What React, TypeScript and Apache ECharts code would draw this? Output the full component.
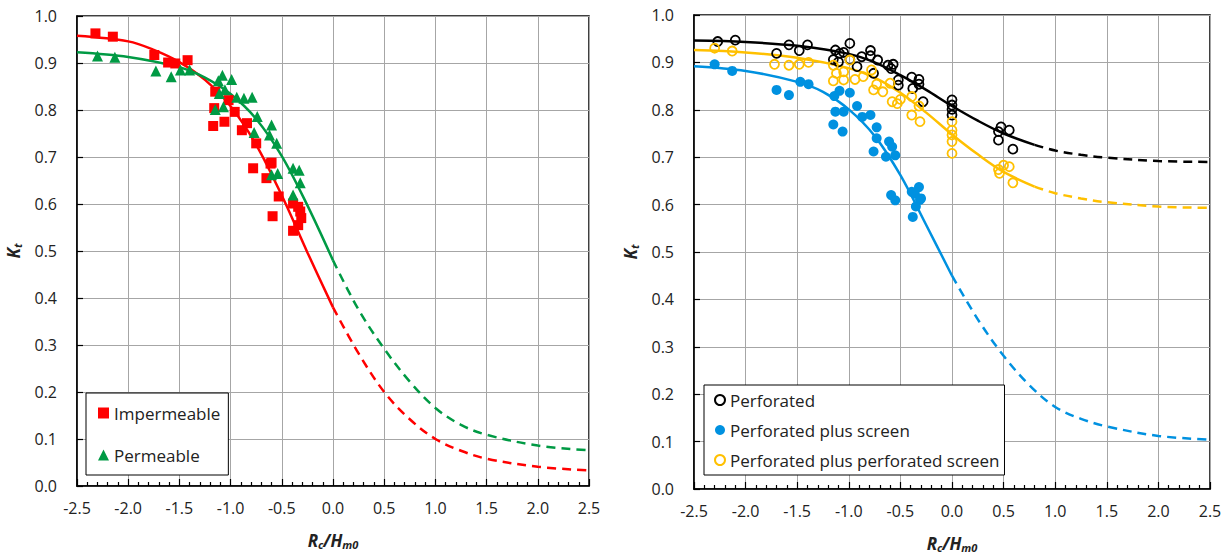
import React, { useEffect, useRef } from "react";
import * as echarts from "echarts";

type P = [number, number];

const FONT = "Open Sans";

// ---------- Left chart data ----------
const impermeable: P[] = [
  [-2.32, 0.963], [-2.15, 0.956], [-1.745, 0.917], [-1.61, 0.901], [-1.54, 0.899],
  [-1.42, 0.906], [-1.15, 0.839], [-1.16, 0.804], [-1.17, 0.766], [-1.06, 0.775],
  [-1.02, 0.821], [-0.96, 0.796], [-0.89, 0.757], [-0.84, 0.772], [-0.75, 0.729],
  [-0.78, 0.676], [-0.61, 0.686], [-0.65, 0.655], [-0.59, 0.574], [-0.53, 0.616],
  [-0.39, 0.601], [-0.34, 0.594], [-0.32, 0.584], [-0.31, 0.57], [-0.34, 0.555],
  [-0.39, 0.543], [-0.6, 0.688],
];
const permeable: P[] = [
  [-2.3, 0.915], [-2.13, 0.912], [-1.73, 0.883], [-1.58, 0.871], [-1.49, 0.885],
  [-1.4, 0.885], [-1.12, 0.862], [-1.08, 0.874], [-0.99, 0.865], [-1.11, 0.835],
  [-1.055, 0.843], [-1.15, 0.801], [-1.07, 0.807], [-0.94, 0.827], [-0.87, 0.825],
  [-0.79, 0.827], [-0.74, 0.786], [-0.6, 0.768], [-0.62, 0.747], [-0.55, 0.729],
  [-0.77, 0.752], [-0.39, 0.676], [-0.33, 0.672], [-0.32, 0.645], [-0.6, 0.662],
  [-0.54, 0.665], [-0.39, 0.619],
];
const impermeableFitSolid: P[] = [
  [-2.5, 0.958], [-2.0, 0.946], [-1.75, 0.928], [-1.5, 0.902],
  [-1.25, 0.864], [-1.0, 0.808], [-0.75, 0.726], [-0.5, 0.618], [-0.25, 0.497], [0.0, 0.38],
];
const impermeableFitDashed: P[] = [
  [0.0, 0.38], [0.25, 0.282], [0.5, 0.2], [0.75, 0.142], [1.0, 0.1], [1.25, 0.075],
  [1.5, 0.058], [2.0, 0.041], [2.5, 0.033],
];
const permeableFitSolid: P[] = [
  [-2.5, 0.923], [-2.0, 0.913], [-1.5, 0.891],
  [-1.25, 0.869], [-1.0, 0.834], [-0.75, 0.781], [-0.5, 0.702], [-0.25, 0.597], [0.0, 0.48],
];
const permeableFitDashed: P[] = [
  [0.0, 0.48], [0.25, 0.375], [0.5, 0.292], [0.75, 0.222], [1.0, 0.166], [1.25, 0.13],
  [1.5, 0.109], [2.0, 0.086], [2.5, 0.076],
];

// ---------- Right chart data ----------
const perforated: P[] = [
  [-2.27, 0.944], [-2.1, 0.947], [-1.58, 0.937], [-1.48, 0.925], [-1.4, 0.937],
  [-1.7, 0.919], [-1.13, 0.926], [-1.09, 0.919], [-1.05, 0.921], [-1.15, 0.906],
  [-1.1, 0.901], [-0.99, 0.94], [-0.99, 0.906], [-0.92, 0.891], [-0.875, 0.912],
  [-0.79, 0.925], [-0.79, 0.914], [-0.72, 0.905], [-0.76, 0.877], [-0.62, 0.894],
  [-0.57, 0.896], [-0.59, 0.887], [-0.52, 0.863], [-0.52, 0.852], [-0.39, 0.869],
  [-0.32, 0.864], [-0.32, 0.854], [-0.38, 0.845], [-0.28, 0.817], [0.0, 0.821],
  [0.0, 0.81], [0.0, 0.801], [0.0, 0.789], [0.45, 0.754], [0.475, 0.764],
  [0.555, 0.757], [0.45, 0.736], [0.59, 0.717],
];
const perforatedScreen: P[] = [
  [-2.3, 0.896], [-2.13, 0.882], [-1.7, 0.842], [-1.58, 0.831], [-1.47, 0.859],
  [-1.39, 0.854], [-1.14, 0.829], [-1.09, 0.84], [-0.99, 0.836], [-1.13, 0.796],
  [-1.05, 0.796], [-1.15, 0.769], [-1.06, 0.754], [-0.92, 0.808], [-0.87, 0.785],
  [-0.79, 0.789], [-0.73, 0.763], [-0.73, 0.74], [-0.76, 0.712], [-0.61, 0.733],
  [-0.58, 0.722], [-0.64, 0.701], [-0.55, 0.704], [-0.59, 0.62], [-0.55, 0.609],
  [-0.36, 0.623], [-0.32, 0.637], [-0.31, 0.61], [-0.38, 0.574], [-0.39, 0.627],
  [-0.35, 0.596], [-0.3, 0.613],
];
const perforatedPerfScreen: P[] = [
  [-2.3, 0.93], [-2.13, 0.924], [-1.72, 0.896], [-1.58, 0.894], [-1.48, 0.896],
  [-1.39, 0.9], [-1.15, 0.894], [-1.12, 0.877], [-1.05, 0.88], [-1.15, 0.861],
  [-1.05, 0.863], [-0.99, 0.905], [-0.94, 0.864], [-0.86, 0.87], [-0.78, 0.884],
  [-0.76, 0.842], [-0.73, 0.854], [-0.67, 0.838], [-0.6, 0.856], [-0.58, 0.817],
  [-0.5, 0.822], [-0.53, 0.813], [-0.39, 0.828], [-0.32, 0.808], [-0.39, 0.789],
  [-0.31, 0.775], [0.0, 0.775], [0.0, 0.757], [0.0, 0.747], [0.0, 0.733],
  [0.0, 0.708], [0.45, 0.674], [0.46, 0.666], [0.5, 0.683], [0.555, 0.68], [0.59, 0.646],
];
const perforatedFitSolid: P[] = [
  [-2.5, 0.946], [-2.0, 0.943], [-1.5, 0.935],
  [-1.0, 0.918], [-0.75, 0.9], [-0.5, 0.873], [-0.25, 0.842],
  [0.0, 0.808], [0.25, 0.777], [0.5, 0.75], [0.8, 0.726],
];
const perforatedFitDashed: P[] = [
  [0.8, 0.726], [1.0, 0.714], [1.25, 0.705], [1.5, 0.699],
  [2.0, 0.692], [2.5, 0.69],
];
const screenFitSolid: P[] = [
  [-2.5, 0.892], [-2.0, 0.882], [-1.5, 0.859],
  [-1.25, 0.838], [-1.0, 0.801], [-0.75, 0.745], [-0.5, 0.662], [-0.25, 0.557], [0.0, 0.45],
];
const screenFitDashed: P[] = [
  [0.0, 0.45], [0.25, 0.358], [0.5, 0.281], [0.75, 0.219], [1.0, 0.173], [1.25, 0.148],
  [1.5, 0.132], [2.0, 0.112], [2.5, 0.104],
];
const perfScreenFitSolid: P[] = [
  [-2.5, 0.926], [-2.0, 0.921], [-1.5, 0.91],
  [-1.0, 0.888], [-0.75, 0.868], [-0.5, 0.836], [-0.25, 0.794],
  [0.0, 0.748], [0.25, 0.706], [0.5, 0.669], [0.8, 0.638],
];
const perfScreenFitDashed: P[] = [
  [0.8, 0.638], [1.0, 0.624], [1.25, 0.613], [1.5, 0.605],
  [2.0, 0.596], [2.5, 0.593],
];

const legendLeft = ["Impermeable", "Permeable"];
const legendRight = ["Perforated", "Perforated plus screen", "Perforated plus perforated screen"];

const RED = "#ff0000";
const GREEN = "#009a44";
const BLACK = "#000000";
const BLUE = "#0091e0";
const GOLD = "#ffc000";

const nameRich = {
  b: { fontSize: 17, fontWeight: "bold", fontStyle: "italic", fontFamily: FONT, color: "#222", lineHeight: 24 },
  s: { fontSize: 11, fontWeight: "bold", fontStyle: "italic", fontFamily: FONT, color: "#222", lineHeight: 24, padding: [9, 0, 0, 0] },
};

function xAxis(gridIndex: number) {
  return {
    type: "value",
    gridIndex,
    min: -2.5,
    max: 2.5,
    interval: 0.5,
    name: "{b|R}{s|c}{b|/H}{s|m0}",
    nameLocation: "middle",
    nameGap: 42,
    nameTextStyle: { rich: nameRich },
    axisLine: { show: true, onZero: false, lineStyle: { color: "#000", width: 1.5 } },
    axisTick: { show: true, inside: true, length: 7, lineStyle: { color: "#000", width: 1.2 } },
    minorTick: { show: true, splitNumber: 5, length: 4, lineStyle: { color: "#000", width: 1.2 } },
    axisLabel: {
      fontSize: 16,
      fontFamily: FONT,
      color: "#222",
      margin: 14,
      formatter: (v: number) => v.toFixed(1),
    },
    splitLine: { show: true, lineStyle: { color: "#a6a6a6", width: 1 } },
  };
}

function yAxis(gridIndex: number) {
  return {
    type: "value",
    gridIndex,
    min: 0,
    max: 1,
    interval: 0.1,
    name: "{b|K}{s|t}",
    nameLocation: "middle",
    nameGap: 52,
    nameTextStyle: { rich: nameRich },
    axisLine: { show: true, onZero: false, lineStyle: { color: "#000", width: 1.5 } },
    axisTick: { show: true, inside: true, length: 6, lineStyle: { color: "#000", width: 1.2 } },
    axisLabel: {
      fontSize: 16,
      fontFamily: FONT,
      color: "#222",
      margin: 20,
      formatter: (v: number) => v.toFixed(1),
    },
    splitLine: { show: true, lineStyle: { color: "#a6a6a6", width: 1 } },
  };
}

function fitLine(data: P[], color: string, dashed: boolean, axisIndex: number) {
  return {
    type: "line",
    xAxisIndex: axisIndex,
    yAxisIndex: axisIndex,
    data,
    smooth: 0.35,
    showSymbol: false,
    symbol: "none",
    silent: true,
    lineStyle: { color, width: 2.5, type: dashed ? [9, 6] : "solid" },
    z: 2,
  };
}

function scatter(name: string, data: P[], axisIndex: number, symbol: string, size: number, style: any) {
  return {
    name,
    type: "scatter",
    xAxisIndex: axisIndex,
    yAxisIndex: axisIndex,
    data,
    symbol,
    symbolSize: size,
    itemStyle: { opacity: 1, ...style },
    z: 3,
  };
}

export default function App() {
  const ref = useRef<HTMLDivElement>(null);
  useEffect(() => {
    if (!ref.current) return;
    const chart = echarts.init(ref.current, undefined, { renderer: "svg" });
    const legendText = { fontSize: 17, fontFamily: FONT, color: "#222", lineHeight: 20 };
    chart.setOption({
      animation: false,
      backgroundColor: "#fff",
      textStyle: { fontFamily: FONT },
      grid: [
        { left: 77, top: 16, width: 512, height: 470, show: true, borderColor: "#000", borderWidth: 1.5, backgroundColor: "transparent" },
        { left: 694, top: 15, width: 516, height: 474, show: true, borderColor: "#000", borderWidth: 1.5, backgroundColor: "transparent" },
      ],
      xAxis: [xAxis(0), xAxis(1)],
      yAxis: [yAxis(0), yAxis(1)],
      legend: [
        {
          left: 86,
          top: 393,
          orient: "vertical",
          itemGap: 22,
          itemWidth: 11,
          itemHeight: 11,
          padding: [10, 8, 10, 12],
          borderColor: "#000",
          borderWidth: 1,
          backgroundColor: "#fff",
          textStyle: legendText,
          selectedMode: false,
          data: [
            { name: legendLeft[0], icon: "rect", itemStyle: { color: RED, opacity: 1 } },
            { name: legendLeft[1], icon: "triangle", itemStyle: { color: GREEN, opacity: 1 } },
          ],
        },
        {
          left: 704,
          top: 385,
          orient: "vertical",
          itemGap: 10,
          itemWidth: 10,
          itemHeight: 10,
          padding: [5, 5, 5, 10],
          borderColor: "#000",
          borderWidth: 1,
          backgroundColor: "#fff",
          textStyle: legendText,
          selectedMode: false,
          data: [
            { name: legendRight[0], icon: "circle", itemStyle: { color: "#fff", borderColor: BLACK, borderWidth: 2, opacity: 1 } },
            { name: legendRight[1], icon: "circle", itemStyle: { color: BLUE, borderWidth: 0, opacity: 1 } },
            { name: legendRight[2], icon: "circle", itemStyle: { color: "#fff", borderColor: GOLD, borderWidth: 2, opacity: 1 } },
          ],
        },
      ],
      series: [
        fitLine(impermeableFitSolid, RED, false, 0),
        fitLine(impermeableFitDashed, RED, true, 0),
        fitLine(permeableFitSolid, GREEN, false, 0),
        fitLine(permeableFitDashed, GREEN, true, 0),
        scatter(legendLeft[0], impermeable, 0, "rect", 10, { color: RED }),
        scatter(legendLeft[1], permeable, 0, "triangle", 11, { color: GREEN }),

        fitLine(perforatedFitSolid, BLACK, false, 1),
        fitLine(perforatedFitDashed, BLACK, true, 1),
        fitLine(screenFitSolid, BLUE, false, 1),
        fitLine(screenFitDashed, BLUE, true, 1),
        fitLine(perfScreenFitSolid, GOLD, false, 1),
        fitLine(perfScreenFitDashed, GOLD, true, 1),
        scatter(legendRight[0], perforated, 1, "circle", 9, { color: "rgba(255,255,255,0)", borderColor: BLACK, borderWidth: 1.8 }),
        scatter(legendRight[1], perforatedScreen, 1, "circle", 10, { color: BLUE }),
        scatter(legendRight[2], perforatedPerfScreen, 1, "circle", 9, { color: "rgba(255,255,255,0)", borderColor: GOLD, borderWidth: 1.8 }),
      ],
    });
    return () => chart.dispose();
  }, []);
  return (
    <div
      ref={ref}
      style={{ position: "fixed", left: 0, top: 0, width: 1231, height: 558, background: "#fff" }}
    />
  );
}
